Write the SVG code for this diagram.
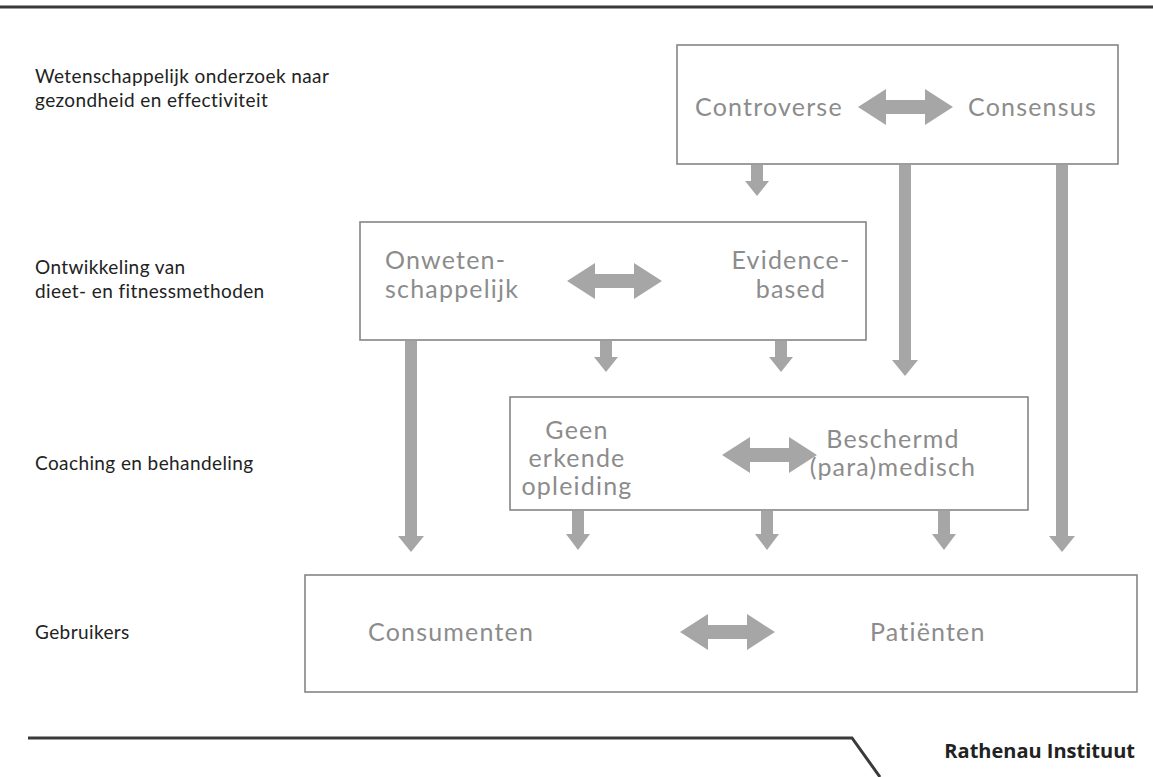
<svg xmlns="http://www.w3.org/2000/svg" width="1153" height="777" viewBox="0 0 1153 777">
<style>
.bg{fill:#ffffff}
.rule{stroke:#3a3a3a;stroke-width:3;fill:none}
.box{fill:#ffffff;stroke:#858585;stroke-width:1.6}
.lbl{font-family:Lato,"Open Sans",sans-serif;font-size:19px;letter-spacing:0.4px;fill:#222}
.nt{font-family:Lato,"Open Sans",sans-serif;font-size:25px;letter-spacing:1.2px;fill:#8c8c8c}
.arr{fill:#a6a6a6}
.brand{font-family:"Open Sans",Lato,sans-serif;font-size:20px;font-weight:bold;fill:#222}
</style>
<rect class="bg" x="0" y="0" width="1153" height="777"/>
<line class="rule" x1="0" y1="7" x2="1153" y2="7"/>

<g id="labels">
<text class="lbl" x="35" y="83">Wetenschappelijk onderzoek naar</text>
<text class="lbl" x="35" y="107">gezondheid en effectiviteit</text>
<text class="lbl" x="35" y="274">Ontwikkeling van</text>
<text class="lbl" x="35" y="298">dieet- en fitnessmethoden</text>
<text class="lbl" x="35" y="470">Coaching en behandeling</text>
<text class="lbl" x="35" y="639">Gebruikers</text>
</g>

<g id="node-onderzoek">
<rect class="box" x="677" y="45" width="441" height="119"/>
<text class="nt" x="695" y="116">Controverse</text>
<text class="nt" x="968" y="116">Consensus</text>
<path class="arr" d="M858,107 L886,89 L886,100 L925,100 L925,89 L953,107 L925,125 L925,114 L886,114 L886,125 Z"/>
</g>

<g id="node-methoden">
<rect class="box" x="360" y="222" width="506" height="118"/>
<text class="nt" x="385" y="269">Onweten-</text>
<text class="nt" x="385" y="298">schappelijk</text>
<text class="nt" x="791" y="269" text-anchor="middle">Evidence-</text>
<text class="nt" x="791" y="298" text-anchor="middle">based</text>
<path class="arr" d="M567,281 L595,263 L595,274 L634,274 L634,263 L662,281 L634,299 L634,288 L595,288 L595,299 Z"/>
</g>

<g id="node-coaching">
<rect class="box" x="510" y="397" width="518" height="113"/>
<text class="nt" x="577" y="439" text-anchor="middle">Geen</text>
<text class="nt" x="577" y="467" text-anchor="middle">erkende</text>
<text class="nt" x="577" y="495" text-anchor="middle">opleiding</text>
<text class="nt" x="893" y="448" text-anchor="middle">Beschermd</text>
<text class="nt" x="893" y="476" text-anchor="middle">(para)medisch</text>
<path class="arr" d="M722,455 L750,437 L750,448 L789,448 L789,437 L817,455 L789,473 L789,462 L750,462 L750,473 Z"/>
</g>

<g id="node-gebruikers">
<rect class="box" x="305" y="575" width="832" height="117"/>
<text class="nt" x="368" y="641">Consumenten</text>
<text class="nt" x="870" y="641">Patiënten</text>
<path class="arr" d="M680,632 L708,614 L708,625 L747,625 L747,614 L775,632 L747,650 L747,639 L708,639 L708,650 Z"/>
</g>

<g id="connectors">
<path class="arr" d="M751,165 L763,165 L763,181 L769,181 L757,196 L745,181 L751,181 Z"/>
<path class="arr" d="M899,165 L911,165 L911,360 L918,360 L905,376 L892,360 L899,360 Z"/>
<path class="arr" d="M1056,165 L1068,165 L1068,536 L1075,536 L1062,552 L1049,536 L1056,536 Z"/>
<path class="arr" d="M405,341 L417,341 L417,536 L424,536 L411,552 L398,536 L405,536 Z"/>
<path class="arr" d="M600,341 L612,341 L612,357 L618,357 L606,372 L594,357 L600,357 Z"/>
<path class="arr" d="M775,341 L787,341 L787,357 L793,357 L781,372 L769,357 L775,357 Z"/>
<path class="arr" d="M572,511 L584,511 L584,534 L590,534 L578,550 L566,534 L572,534 Z"/>
<path class="arr" d="M761,511 L773,511 L773,534 L779,534 L767,550 L755,534 L761,534 Z"/>
<path class="arr" d="M938,511 L950,511 L950,534 L956,534 L944,550 L932,534 L938,534 Z"/>
</g>

<g id="footer">
<polyline class="rule" points="28,738 852,738 880,777"/>
<text class="brand" x="1135" y="758" text-anchor="end">Rathenau Instituut</text>
</g>
</svg>
